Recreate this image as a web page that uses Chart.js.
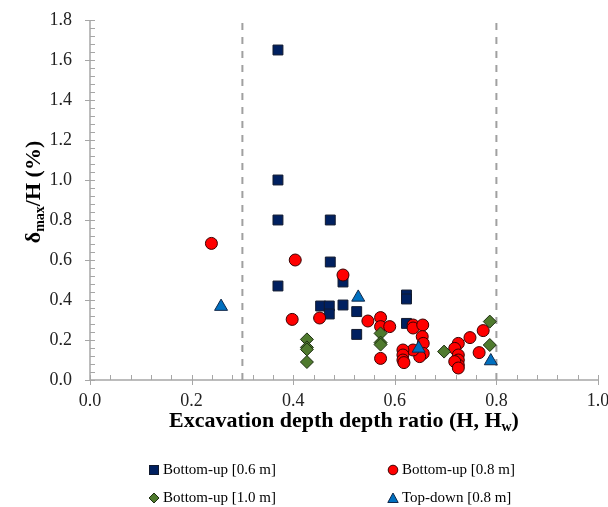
<!DOCTYPE html>
<html>
<head>
<meta charset="utf-8">
<script src="https://cdn.jsdelivr.net/npm/chart.js@4"></script>
<style>
  body { margin: 0; background: #fff; }
  #wrap { position: relative; width: 608px; height: 507px; overflow: hidden; }
  #chart { position: absolute; left: 0; top: 0; }
  .legend-item {
    position: absolute;
    font-family: 'Liberation Serif', 'Times New Roman', serif;
    font-size: 15px;
    color: #000;
    display: flex;
    align-items: center;
    white-space: nowrap;
  }
  .legend-item svg { margin-right: 3px; }
</style>
</head>
<body>
<div id="wrap">
  <canvas id="chart" width="608" height="507"></canvas>
  <div id="legend"></div>
</div>
<script>
// Bottom-up [0.6 m]
const sq06X = [0.37, 0.37, 0.37, 0.37, 0.473, 0.473, 0.498, 0.454, 0.471, 0.471, 0.498, 0.525, 0.525, 0.623, 0.623, 0.623];
const sq06Y = [1.65, 1.00, 0.80, 0.47, 0.80, 0.59, 0.49, 0.37, 0.37, 0.33, 0.375, 0.342, 0.228, 0.425, 0.405, 0.283];

// Bottom-up [0.8 m]
const bu08X = [0.239, 0.404, 0.498, 0.398, 0.452, 0.547, 0.572, 0.572, 0.590, 0.572, 0.636, 0.636, 0.655, 0.654, 0.656, 0.656, 0.649, 0.636, 0.616, 0.616, 0.616, 0.618, 0.774, 0.748, 0.725, 0.718, 0.725, 0.725, 0.725, 0.718, 0.725, 0.766];
const bu08Y = [0.683, 0.60, 0.525, 0.303, 0.31, 0.295, 0.312, 0.267, 0.267, 0.108, 0.275, 0.26, 0.275, 0.217, 0.183, 0.133, 0.117, 0.15, 0.15, 0.125, 0.10, 0.087, 0.247, 0.212, 0.183, 0.158, 0.125, 0.10, 0.075, 0.092, 0.06, 0.137];

// Bottom-up [1.0 m]
const bu10X = [0.427, 0.427, 0.427, 0.427, 0.572, 0.572, 0.572, 0.697, 0.787, 0.787];
const bu10Y = [0.203, 0.163, 0.153, 0.09, 0.233, 0.187, 0.177, 0.142, 0.292, 0.175];

// Top-down [0.8 m]
const td08X = [0.258, 0.528, 0.647, 0.789];
const td08Y = [0.367, 0.413, 0.158, 0.095];

// dashed limits
const limitX = [0.3, 0.8];

const xTicks = [0, 0.2, 0.4, 0.6, 0.8, 1.0];
const yTicks = [0, 0.2, 0.4, 0.6, 0.8, 1.0, 1.2, 1.4, 1.6, 1.8];

const seriesNames = ['Bottom-up [0.6 m]', 'Bottom-up [0.8 m]', 'Bottom-up [1.0 m]', 'Top-down [0.8 m]'];
const xTitle = 'Excavation depth depth ratio (H, H';
const xTitleSub = 'w';

const serif = "'Liberation Serif', 'Times New Roman', serif";
const axisColor = '#a6a6a6';

function toPoints(xs, ys) {
  return xs.map((x, i) => ({ x: x, y: ys[i] }));
}

const series = [
  { label: seriesNames[0], data: toPoints(sq06X, sq06Y), pointStyle: 'rect', pointRadius: 7, fill: '#002060', border: '#111a2e', order: 4 },
  { label: seriesNames[1], data: toPoints(bu08X, bu08Y), pointStyle: 'circle', pointRadius: 6, fill: '#ff0000', border: '#3a0000', order: 3 },
  { label: seriesNames[2], data: toPoints(bu10X, bu10Y), pointStyle: 'rectRot', pointRadius: 6.5, fill: '#4f7a2e', border: '#1e2f12', order: 2 },
  { label: seriesNames[3], data: toPoints(td08X, td08Y), pointStyle: 'triangle', pointRadius: 7.5, fill: '#0070c0', border: '#10284a', order: 1 }
];

const datasets = series.map(s => ({
  type: 'scatter',
  label: s.label,
  data: s.data,
  pointStyle: s.pointStyle,
  pointRadius: s.pointRadius,
  pointHoverRadius: s.pointRadius,
  backgroundColor: s.fill,
  borderColor: s.border,
  borderWidth: 1,
  order: s.order
}));

limitX.forEach(v => {
  datasets.push({
    type: 'line',
    label: 'limit ' + v,
    data: [{ x: v, y: yTicks[0] }, { x: v, y: yTicks[yTicks.length - 1] }],
    borderColor: '#a0a0a0',
    borderWidth: 2,
    borderDash: [7, 7],
    pointRadius: 0,
    fill: false,
    order: 5
  });
});

// axes with crossing major ticks and inside minor ticks, plus titles
const axesPlugin = {
  id: 'axesPlugin',
  beforeDatasetsDraw(chart) {
    const ctx = chart.ctx;
    const xs = chart.scales.x;
    const ys = chart.scales.y;
    const area = chart.chartArea;
    ctx.save();
    ctx.strokeStyle = axisColor;
    ctx.lineWidth = 1.5;
    ctx.beginPath();
    ctx.moveTo(area.left, area.top);
    ctx.lineTo(area.left, area.bottom);
    ctx.lineTo(area.right, area.bottom);
    ctx.stroke();

    ctx.lineWidth = 1;
    ctx.beginPath();
    for (let i = 0; i <= 25; i++) {
      const px = Math.round(xs.getPixelForValue(i * 0.04)) + 0.5;
      if (i % 5 === 0) {
        ctx.moveTo(px, area.bottom - 5);
        ctx.lineTo(px, area.bottom + 5);
      } else {
        ctx.moveTo(px, area.bottom);
        ctx.lineTo(px, area.bottom - 5);
      }
    }
    for (let i = 0; i <= 45; i++) {
      const py = Math.round(ys.getPixelForValue(i * 0.04)) + 0.5;
      if (i % 5 === 0) {
        ctx.moveTo(area.left - 5, py);
        ctx.lineTo(area.left + 5, py);
      } else {
        ctx.moveTo(area.left, py);
        ctx.lineTo(area.left + 5, py);
      }
    }
    ctx.stroke();
    ctx.restore();
  },
  afterDraw(chart) {
    const ctx = chart.ctx;
    const area = chart.chartArea;
    ctx.save();
    ctx.fillStyle = '#000';

    // x title with subscript
    const bigFont = 'bold 22px ' + serif;
    const subFont = 'bold 14px ' + serif;
    ctx.font = bigFont;
    const w1 = ctx.measureText(xTitle).width;
    ctx.font = subFont;
    const w2 = ctx.measureText(xTitleSub).width;
    ctx.font = bigFont;
    const w3 = ctx.measureText(')').width;
    let x0 = (area.left + area.right) / 2 - (w1 + w2 + w3) / 2;
    const base = area.bottom + 47;
    ctx.textBaseline = 'alphabetic';
    ctx.textAlign = 'left';
    ctx.fillText(xTitle, x0, base);
    ctx.font = subFont;
    ctx.fillText(xTitleSub, x0 + w1, base + 4);
    ctx.font = bigFont;
    ctx.fillText(')', x0 + w1 + w2, base);

    // y title: delta_max/H (%)
    const parts = [['δ', bigFont, 0], ['max', subFont, 4], ['/H (%)', bigFont, 0]];
    let total = 0;
    parts.forEach(p => { ctx.font = p[1]; total += ctx.measureText(p[0]).width; });
    ctx.translate(40, 192);
    ctx.rotate(-Math.PI / 2);
    let cx = -total / 2;
    parts.forEach(p => {
      ctx.font = p[1];
      ctx.fillText(p[0], cx, p[2]);
      cx += ctx.measureText(p[0]).width;
    });
    ctx.restore();
  }
};

const chart = new Chart(document.getElementById('chart'), {
  data: { datasets: datasets },
  options: {
    responsive: false,
    animation: false,
    layout: { padding: { top: 20, right: 10, left: 0, bottom: 87 } },
    plugins: {
      legend: { display: false },
      tooltip: { enabled: false }
    },
    scales: {
      x: {
        type: 'linear',
        min: xTicks[0],
        max: xTicks[xTicks.length - 1],
        afterBuildTicks: function(scale) {
          scale.ticks = xTicks.map(v => ({ value: v }));
        },
        afterFit: function(scale) {
          scale.height = 40;
          scale.paddingLeft = 0;
          scale.paddingRight = 0;
        },
        ticks: {
          callback: v => Number(v).toFixed(1),
          font: { family: serif, size: 18 },
          color: '#222',
          padding: 10,
          maxRotation: 0
        },
        grid: { display: false, drawTicks: false },
        border: { display: false }
      },
      y: {
        type: 'linear',
        min: yTicks[0],
        max: yTicks[yTicks.length - 1],
        afterBuildTicks: function(scale) {
          scale.ticks = yTicks.map(v => ({ value: v }));
        },
        afterFit: function(scale) {
          scale.width = 90;
          scale.paddingTop = 0;
          scale.paddingBottom = 0;
        },
        ticks: {
          callback: v => Number(v).toFixed(1),
          font: { family: serif, size: 18 },
          color: '#222',
          padding: 18
        },
        grid: { display: false, drawTicks: false },
        border: { display: false }
      }
    }
  },
  plugins: [axesPlugin]
});

// HTML legend, two columns
function markerSvg(style, fill, border) {
  let shape = '';
  if (style === 'rect') shape = `<rect x="1.5" y="1.5" width="9" height="9" fill="${fill}" stroke="${border}"/>`;
  if (style === 'circle') shape = `<circle cx="6" cy="6" r="4.8" fill="${fill}" stroke="${border}"/>`;
  if (style === 'rectRot') shape = `<polygon points="6,1 11,6 6,11 1,6" fill="${fill}" stroke="${border}"/>`;
  if (style === 'triangle') shape = `<polygon points="6,1 11.2,10.5 0.8,10.5" fill="${fill}" stroke="${border}"/>`;
  return `<svg width="12" height="12" viewBox="0 0 12 12">${shape}</svg>`;
}

const legendPos = [[148, 461], [387, 461], [148, 489], [387, 489]];
const legendDiv = document.getElementById('legend');
series.forEach((s, i) => {
  const item = document.createElement('div');
  item.className = 'legend-item';
  item.style.left = legendPos[i][0] + 'px';
  item.style.top = legendPos[i][1] + 'px';
  item.innerHTML = markerSvg(s.pointStyle, s.fill, s.border) + '<span>' + s.label + '</span>';
  legendDiv.appendChild(item);
});
</script>
</body>
</html>
